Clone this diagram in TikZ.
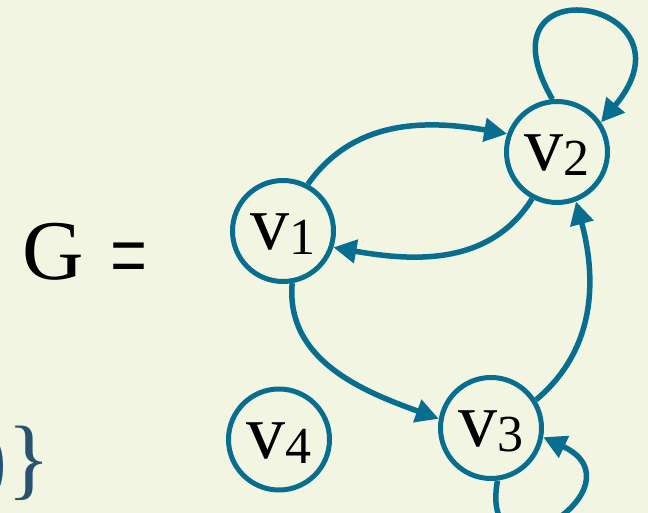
\documentclass[tikz,border=0pt]{standalone}
\usepackage{fontspec}
\setmainfont{Liberation Serif}
\usetikzlibrary{arrows.meta}
\definecolor{bg}{RGB}{241,245,225}
\definecolor{edgeblue}{RGB}{8,110,143}
\definecolor{bracecol}{RGB}{40,82,112}
\tikzset{
  vert/.style={circle, draw=edgeblue, line width=5pt, fill=bg, minimum size=101pt,
    inner sep=0pt, text height=43pt, text depth=5pt, font=\fontsize{78}{78}\selectfont},
  arc/.style={draw=edgeblue, line width=5.5pt, -{Triangle[length=23pt,width=23pt]}},
  plain/.style={inner sep=0pt, outer sep=0pt},
}
\newcommand\vlab[1]{v\raisebox{-5pt}{\fontsize{52}{52}\selectfont #1}}
\begin{document}
\begin{tikzpicture}[x=1pt,y=1pt]
\fill[bg] (0,0) rectangle (648,513);
\useasboundingbox (0,0) rectangle (648,513);
\node[vert] (v1) at (283,282) {\vlab{1}};
\node[vert] (v2) at (557,361) {\vlab{2}};
\node[vert] (v3) at (491,85) {\vlab{3}};
\node[vert] (v4) at (279,73.5) {\vlab{4}};
\node[plain, anchor=base west, font=\fontsize{85}{85}\selectfont] (g) at (22.5,233) {G};
\node[plain, font=\fontsize{85}{85}\selectfont] (eq) at (128.5,246) {\scalebox{0.77}[1.25]{=}};
\node[plain, anchor=base east, text=bracecol, font=\fontsize{90}{90}\selectfont] (br) at (51,24) {)\}};
\draw[arc] (v1.62) to[out=55,in=170] (v2.160);
\draw[arc] (v2.242) to[out=238,in=-10] (v1.-18);
\draw[arc] (v1.-80) to[out=-95,in=160] (v3.170);
\draw[arc] (v3.32) to[out=40,in=-75] (v2.-69);
\draw[arc] (v2.95) to[out=120,in=50,distance=160pt] (v2.34);
\draw[arc] (v3.-83) to[out=-100,in=-25,distance=115pt] (v3.-10);
\end{tikzpicture}
\end{document}
